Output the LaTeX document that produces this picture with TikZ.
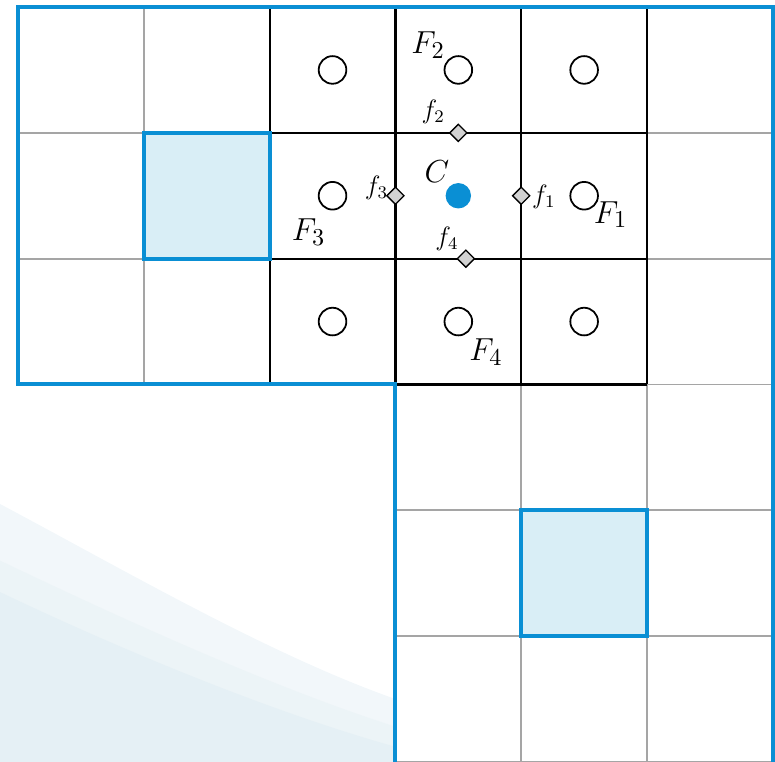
\documentclass[tikz,border=0pt]{standalone}
\usepackage{tikz}
\usetikzlibrary{shapes.geometric,positioning}
\usepackage{xcolor}
\definecolor{borderblue}{RGB}{10,143,212}
\definecolor{cellblue}{RGB}{217,238,246}
\definecolor{gridgray}{RGB}{165,165,165}
\definecolor{facegray}{RGB}{210,210,210}
\definecolor{bgtint}{RGB}{242,247,250}
\definecolor{bgtintmid}{RGB}{236,244,247}
\definecolor{bgtintdark}{RGB}{229,240,245}

\begin{document}
\begin{tikzpicture}[x=2cm, y=2cm,
    gridline/.style={draw=gridgray, line width=0.8pt},
    blkline/.style={draw=black, line width=1pt},
    border/.style={draw=borderblue, line width=1.8pt},
    hilite/.style={fill=cellblue, draw=borderblue, line width=1.8pt},
    cellpt/.style={circle, draw, fill=white, line width=0.8pt, minimum size=12.5pt, inner sep=0pt},
    ctrpt/.style={circle, fill=borderblue, minimum size=11.5pt, inner sep=0pt},
    facept/.style={diamond, draw, fill=facegray, line width=0.6pt, minimum size=8pt, inner sep=0pt},
    bigF/.style={font=\fontsize{15}{17}\selectfont, inner sep=0pt},
    smallf/.style={font=\fontsize{12}{14}\selectfont, inner sep=0pt}
]
\useasboundingbox (-0.143,0) rectangle (6.017,6.056);

% faint background swoosh
\fill[bgtint] (-0.143,0) -- (-0.143,2.05) .. controls (0.8,1.55) and (2.0,0.85) .. (3,0.5) -- (3,0) -- cycle;
\fill[bgtintmid] (-0.143,0) -- (-0.143,1.6) .. controls (0.8,1.15) and (2.0,0.6) .. (3,0.28) -- (3,0) -- cycle;
\fill[bgtintdark] (-0.143,0) -- (-0.143,1.35) .. controls (0.8,0.9) and (2.0,0.4) .. (3,0.12) -- (3,0) -- cycle;

% mesh
\draw[gridline] (0,3) grid[step=2cm] (6,6);
\draw[gridline] (3,0) grid[step=2cm] (6,3);
\draw[blkline] (2,3) grid[step=2cm] (5,6);

% highlighted cells
\draw[hilite] (1,4) rectangle (2,5);
\draw[hilite] (4,1) rectangle (5,2);

% domain outline
\draw[border] (3,0) -- (3,3) -- (0,3) -- (0,6) -- (6,6) -- (6,0);

% cell centres
\node[cellpt] (nw) at (2.5,5.5) {};
\node[cellpt] (n)  at (3.5,5.5) {};
\node[cellpt] (ne) at (4.5,5.5) {};
\node[cellpt] (w)  at (2.5,4.5) {};
\node[ctrpt]  (c)  at (3.5,4.5) {};
\node[cellpt] (e)  at (4.5,4.5) {};
\node[cellpt] (sw) at (2.5,3.5) {};
\node[cellpt] (s)  at (3.5,3.5) {};
\node[cellpt] (se) at (4.5,3.5) {};

% face points
\node[facept] (f1) at (4,4.5) {};
\node[facept] (f2) at (3.5,5) {};
\node[facept] (f3) at (3,4.5) {};
\node[facept] (f4) at (3.56,4) {};

% labels
\node[bigF] (lblC)  at (3.33,4.69) {$C$};
\node[bigF] (lblF1) at (4.71,4.35) {$F_1$};
\node[bigF] (lblF2) at (3.26,5.70) {$F_2$};
\node[bigF] (lblF3) at (2.31,4.21) {$F_3$};
\node[bigF] (lblF4) at (3.72,3.26) {$F_4$};
\node[smallf] (lblf1) at (4.18,4.49) {$f_1$};
\node[smallf] (lblf2) at (3.30,5.17) {$f_2$};
\node[smallf] (lblf3) at (2.85,4.56) {$f_3$};
\node[smallf] (lblf4) at (3.41,4.16) {$f_4$};
\end{tikzpicture}
\end{document}
